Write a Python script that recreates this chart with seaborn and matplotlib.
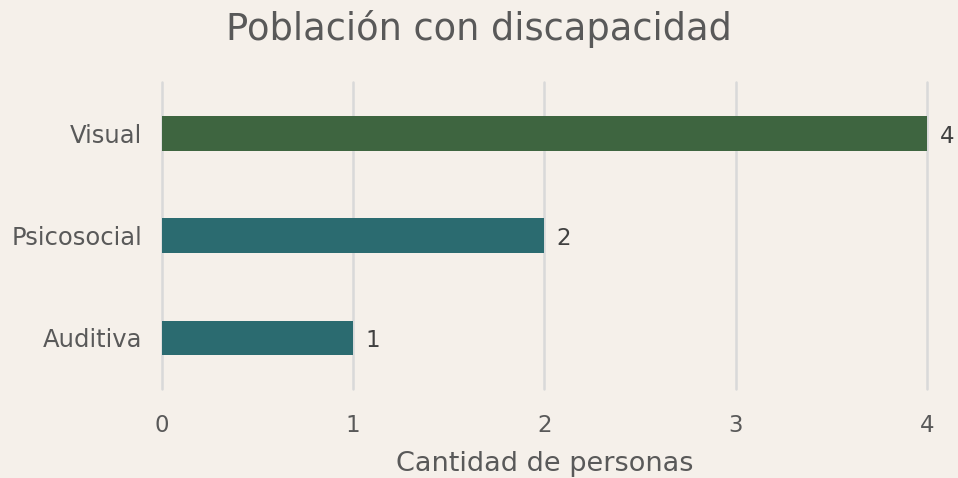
import seaborn as sns
import matplotlib.pyplot as plt
import pandas as pd

# datos
categorias = ['Visual', 'Psicosocial', 'Auditiva']
personas = [4, 2, 1]
colores = ['#3E6540', '#2B6B70', '#2B6B70']
ticks_x = [0, 1, 2, 3, 4]

fondo = '#F5F0EA'
gris = '#595959'

sns.set_style('white')
plt.rcParams['font.family'] = ['DejaVu Sans']

df = pd.DataFrame({'categoria': categorias, 'personas': personas})

fig = plt.figure(figsize=(9.58, 4.78), dpi=100, facecolor=fondo)
ax = fig.add_axes([0.169, 0.186, 0.7986, 0.6425])
ax.set_facecolor(fondo)

sns.barplot(data=df, y='categoria', x='personas', hue='categoria',
            palette=colores, width=0.34, saturation=1, linewidth=0,
            legend=False, ax=ax, zorder=3)

for p, v in zip(ax.patches, personas):
    ax.text(v + 0.065, p.get_y() + p.get_height() / 2 + 0.03, str(v),
            va='center', ha='left', fontsize=16.5, color='#404040')

ax.set_xlim(0, 4)
ax.set_xticks(ticks_x)
ax.grid(axis='x', color='#D9D9D9', linewidth=1.8, zorder=0)
ax.grid(axis='y', visible=False)
for g in ax.get_xgridlines():
    g.set_clip_on(False)
for s in ax.spines.values():
    s.set_visible(False)
ax.tick_params(axis='y', length=0, labelsize=17.5, colors=gris, pad=14)
ax.tick_params(axis='x', length=0, labelsize=16.5, colors=gris, pad=18)
ax.set_ylabel('')
ax.set_xlabel('Cantidad de personas', fontsize=19.5, color=gris, labelpad=10)
fig.text(0.5, 0.94, 'Población con discapacidad', fontsize=26.5, color=gris,
         ha='center', va='center')

fig.savefig('out.png', dpi=100, facecolor=fondo)
